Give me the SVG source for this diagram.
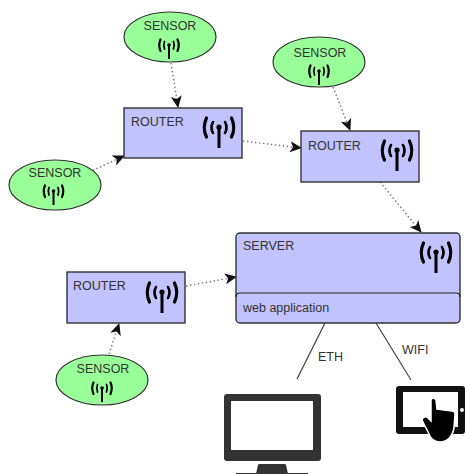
<svg xmlns="http://www.w3.org/2000/svg" width="465" height="474" viewBox="0 0 465 474">
<style>
.s{fill:#99ff99;stroke:#333;stroke-width:1.2}
.r{fill:#c3c3ff;stroke:#333;stroke-width:1.4}
.t{font:12.5px "Liberation Sans",Arial,sans-serif;fill:#333}
.c{fill:none;stroke:#777;stroke-width:1.4;stroke-dasharray:1.5 2.5}
.l{fill:none;stroke:#444;stroke-width:1.2}
.w{fill:none;stroke:#000;stroke-linecap:round}
</style>
<defs>
<marker id="a" markerWidth="14" markerHeight="14" refX="11" refY="6" orient="auto" markerUnits="userSpaceOnUse"><path d="M0 0.500L12 6L0 11.500L3 6Z" fill="#111"/></marker>
<g id="big"><path d="M0 2V23" stroke="#000" stroke-width="3" fill="none"/><circle cx="0" cy="2" r="2.600" fill="#000"/><path class="w" stroke-width="2.600" d="M-6-3Q-9 2.500-6 8M6-3Q9 2.500 6 8"/><path class="w" stroke-width="3.200" d="M-12.500-7Q-17 2.500-12.500 12M12.500-7Q17 2.500 12.500 12"/></g>
<g id="small"><path d="M0 1V15" stroke="#000" stroke-width="2" fill="none"/><circle cx="0" cy="1" r="1.800" fill="#000"/><path class="w" stroke-width="1.800" d="M-4.500-2.500Q-6 1-4.500 5M4.500-2.500Q6 1 4.500 5"/><path class="w" stroke-width="2.200" d="M-8.500-4.500Q-11 1-8.500 7M8.500-4.500Q11 1 8.500 7"/></g>
</defs>
<g id="connectors">
<path class="c" d="M171 63L178 107" marker-end="url(#a)"/>
<path class="c" d="M89 172L124 156" marker-end="url(#a)"/>
<path class="c" d="M243 141L301 148" marker-end="url(#a)"/>
<path class="c" d="M333 87L350 130" marker-end="url(#a)"/>
<path class="c" d="M380 182L421 232" marker-end="url(#a)"/>
<path class="c" d="M186 286L236 277" marker-end="url(#a)"/>
<path class="c" d="M109 354L119 324" marker-end="url(#a)"/>
<path class="l" d="M325 323L297 379"/>
<path class="l" d="M376 323L411 380"/>
</g>
<g id="sensor1"><ellipse class="s" cx="170" cy="37" rx="46" ry="25"/><text class="t" x="170" y="30" text-anchor="middle">SENSOR</text><use href="#small" x="169" y="44"/></g>
<g id="sensor2"><ellipse class="s" cx="55" cy="185" rx="46" ry="25"/><text class="t" x="55" y="177" text-anchor="middle">SENSOR</text><use href="#small" x="53.500" y="190"/></g>
<g id="sensor3"><ellipse class="s" cx="319" cy="62" rx="46" ry="25"/><text class="t" x="320" y="57" text-anchor="middle">SENSOR</text><use href="#small" x="319" y="70"/></g>
<g id="sensor4"><ellipse class="s" cx="102" cy="380" rx="46" ry="25"/><text class="t" x="103" y="373" text-anchor="middle">SENSOR</text><use href="#small" x="102" y="387"/></g>
<g id="router1"><rect class="r" x="124" y="108" width="118" height="50"/><text class="t" x="131" y="126">ROUTER</text><use href="#big" x="219" y="125"/></g>
<g id="router2"><rect class="r" x="301" y="131" width="118" height="51"/><text class="t" x="308" y="150">ROUTER</text><use href="#big" x="397" y="148"/></g>
<g id="router3"><rect class="r" x="67" y="272" width="118" height="51"/><text class="t" x="73" y="290">ROUTER</text><use href="#big" x="162" y="290"/></g>
<g id="server"><rect class="r" x="236" y="233" width="224" height="90" rx="4"/><path d="M236 297Q236 293 240 293H456Q460 293 460 297" fill="none" stroke="#222" stroke-width="1.200"/><text class="t" x="243" y="250">SERVER</text><text class="t" x="243" y="312">web application</text><use href="#big" x="436" y="250"/></g>
<text class="t" x="318" y="361">ETH</text>
<text class="t" x="402" y="354">WIFI</text>
<g id="monitor"><rect x="224" y="394" width="97" height="67" rx="3" fill="#333"/><rect x="231" y="401" width="82" height="49" fill="#fff"/><path d="M256 474L258 465Q258 464 260 464H284Q286 464 286 465L288 474Z" fill="#333"/><path d="M236 474H308" stroke="#333" stroke-width="2"/></g>
<g id="tablet"><path fill-rule="evenodd" fill="#111" d="M399 386H462Q465 386 465 389V431Q465 434 462 434H399Q396 434 396 431V389Q396 386 399 386ZM403 392V427H458V392Z"/><circle cx="462" cy="410" r="2" fill="#fff"/><path d="M431 400Q433 396 436 400L437 409L452 411Q455 411 455 414L454 428Q451 442 440 442Q432 442 429 434L422 420Q423 416 427 417L431 421Z" fill="#000" stroke="#fff" stroke-width="1.500"/></g>
</svg>
